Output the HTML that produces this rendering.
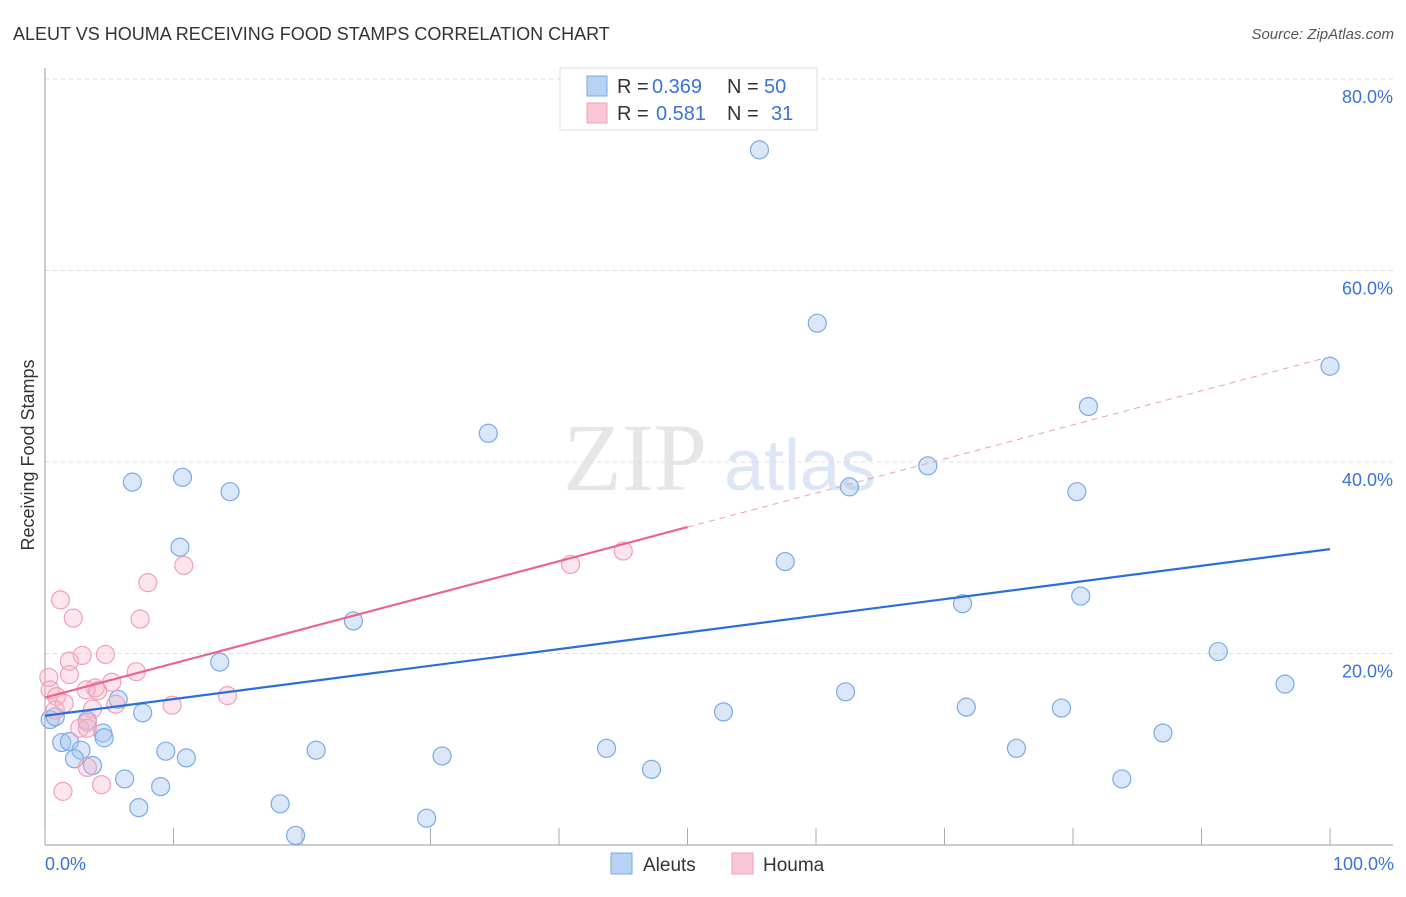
<!DOCTYPE html>
<html><head><meta charset="utf-8"><style>
body{margin:0;background:#fff;font-family:"Liberation Sans",sans-serif;}
</style></head><body>
<svg width="1406" height="892" viewBox="0 0 1406 892" xmlns="http://www.w3.org/2000/svg">
<text x="13" y="40" font-size="18" fill="#333">ALEUT VS HOUMA RECEIVING FOOD STAMPS CORRELATION CHART</text>
<text x="1394" y="39" font-size="15" fill="#555" font-style="italic" text-anchor="end">Source: ZipAtlas.com</text>
<text x="635" y="490" font-size="96" fill="#e6e6e6" font-family="Liberation Serif,serif" text-anchor="middle">ZIP</text>
<text x="800" y="490" font-size="72" fill="#dce6f5" text-anchor="middle">atlas</text>
<g id="grid"></g>
<g id="axes"></g>
<g id="marks"></g>
<text x="34" y="455" font-size="18" fill="#333" transform="rotate(-90 34 455)" text-anchor="middle">Receiving Food Stamps</text>
<text x="45" y="870" font-size="18" fill="#3a72d8">0.0%</text>
<text x="1394" y="870" font-size="18" fill="#3a72d8" text-anchor="end">100.0%</text>
<g>
<rect x="560" y="68" width="257" height="62" fill="#fff" stroke="#ddd"/>
<rect x="587" y="76" width="20" height="20" fill="#b8d2f5" stroke="#7aaae6"/>
<rect x="587" y="103" width="20" height="20" fill="#f9c6d5" stroke="#f0a0b8"/>
<text x="617" y="93" font-size="20" fill="#333">R =</text>
<text x="652" y="93" font-size="20" fill="#3a72d8">0.369</text>
<text x="727" y="93" font-size="20" fill="#333">N =</text>
<text x="764" y="93" font-size="20" fill="#3a72d8">50</text>
<text x="617" y="120" font-size="20" fill="#333">R =</text>
<text x="656" y="120" font-size="20" fill="#3a72d8">0.581</text>
<text x="727" y="120" font-size="20" fill="#333">N =</text>
<text x="771" y="120" font-size="20" fill="#3a72d8">31</text>
</g>
<g>
<rect x="611" y="853" width="21" height="21" fill="#b8d2f5" stroke="#7aaae6"/>
<text x="643" y="871" font-size="19" fill="#333">Aleuts</text>
<rect x="732" y="853" width="21" height="21" fill="#f9c6d5" stroke="#f0a0b8"/>
<text x="763" y="871" font-size="19" fill="#333">Houma</text>
</g>
</svg>
<script>
const yTicks=[20,40,60,80];
const yTickLabels=["20.0%","40.0%","60.0%","80.0%"];
const xTicks=[0,10,20,30,40,50,60,70,80,90,100];
const aleutX=[55.6,60.1,100,81.2,34.5,10.7,6.8,14.4,68.7,62.6,80.3,10.5,57.6,71.4,80.6,24.0,91.3,13.6,96.5,62.3,5.7,7.6,71.7,79.1,52.8,0.4,0.8,3.3,4.5,4.6,1.3,1.9,2.8,87.0,9.4,21.1,43.7,75.6,2.3,11.0,30.9,3.7,47.2,6.2,83.8,9.0,7.3,18.3,29.7,19.5];
const aleutY=[72.6,54.5,50.0,45.8,43.0,38.4,37.9,36.9,39.6,37.4,36.9,31.1,29.6,25.2,26.0,23.4,20.2,19.1,16.8,16.0,15.2,13.8,14.4,14.3,13.9,13.1,13.4,13.0,11.7,11.2,10.7,10.8,9.9,11.7,9.8,9.9,10.1,10.1,9.0,9.1,9.3,8.3,7.9,6.9,6.9,6.1,3.9,4.3,2.8,1.0];
const houmaX=[40.9,45.0,10.8,8.0,1.2,2.2,7.4,0.3,1.9,2.9,4.7,1.9,7.1,5.2,3.9,3.2,4.1,0.4,0.9,1.5,5.5,3.7,9.9,14.2,0.8,3.3,2.7,3.3,3.3,4.4,1.4];
const houmaY=[29.3,30.7,29.2,27.4,25.6,23.7,23.6,17.5,19.2,19.8,19.9,17.8,18.1,17.0,16.4,16.2,16.1,16.2,15.5,14.8,14.7,14.2,14.6,15.6,14.1,12.8,12.2,12.2,8.1,6.3,5.6];
const aleutLine=[13.5,30.9];
const houmaLine=[15.4,51.0];
const houmaSolidEnd=50;
const X=v=>45+v*12.85, Y=v=>845-v*9.575;
const NS="http://www.w3.org/2000/svg";
function mk(t,a,p){const e=document.createElementNS(NS,t);for(const k in a)e.setAttribute(k,a[k]);p.appendChild(e);return e;}
const grid=document.getElementById('grid'),axes=document.getElementById('axes'),marks=document.getElementById('marks');
yTicks.forEach((t,i)=>{
 const l=mk('line',{x1:45,x2:1393,y1:Y(t),y2:Y(t),stroke:'#ddd','stroke-dasharray':'4,4'},grid);
 
 
 const tx=mk('text',{x:1393,y:Y(t)+24,'font-size':18,fill:'#3a72d8','text-anchor':'end'},grid);
 tx.textContent=yTickLabels[i];
 
 
});
const la=mk('line',{x1:45,x2:45,y1:68,y2:845,stroke:'#999'},axes);


const lb=mk('line',{x1:45,x2:1393,y1:845,y2:845,stroke:'#999'},axes);


xTicks.forEach(t=>{
 const l=mk('line',{x1:X(t),x2:X(t),y1:828,y2:845,stroke:'#aaa'},axes);
 
 
});
aleutX.forEach((v,i)=>{
 const c=mk('circle',{cx:X(v),cy:Y(aleutY[i]),r:9,fill:'rgba(160,196,240,0.4)',stroke:'#7aaae6','stroke-width':1.2},marks);
 
 
});
houmaX.forEach((v,i)=>{
 const c=mk('circle',{cx:X(v),cy:Y(houmaY[i]),r:9,fill:'rgba(245,180,200,0.35)',stroke:'#f0a0b8','stroke-width':1.2},marks);
 
 
});
const hY=x=>houmaLine[0]+(houmaLine[1]-houmaLine[0])*x/100;
const bl=mk('line',{x1:X(0),y1:Y(aleutLine[0]),x2:X(100),y2:Y(aleutLine[1]),stroke:'#2a6fd6','stroke-width':2.2},marks);


const pl=mk('line',{x1:X(0),y1:Y(hY(0)),x2:X(houmaSolidEnd),y2:Y(hY(houmaSolidEnd)),stroke:'#e8668e','stroke-width':2.2},marks);


const pd=mk('line',{x1:X(houmaSolidEnd),y1:Y(hY(houmaSolidEnd)),x2:X(100),y2:Y(hY(100)),stroke:'#e8a0b8','stroke-width':1,'stroke-dasharray':'6,5'},marks);


</script>
</body></html>
